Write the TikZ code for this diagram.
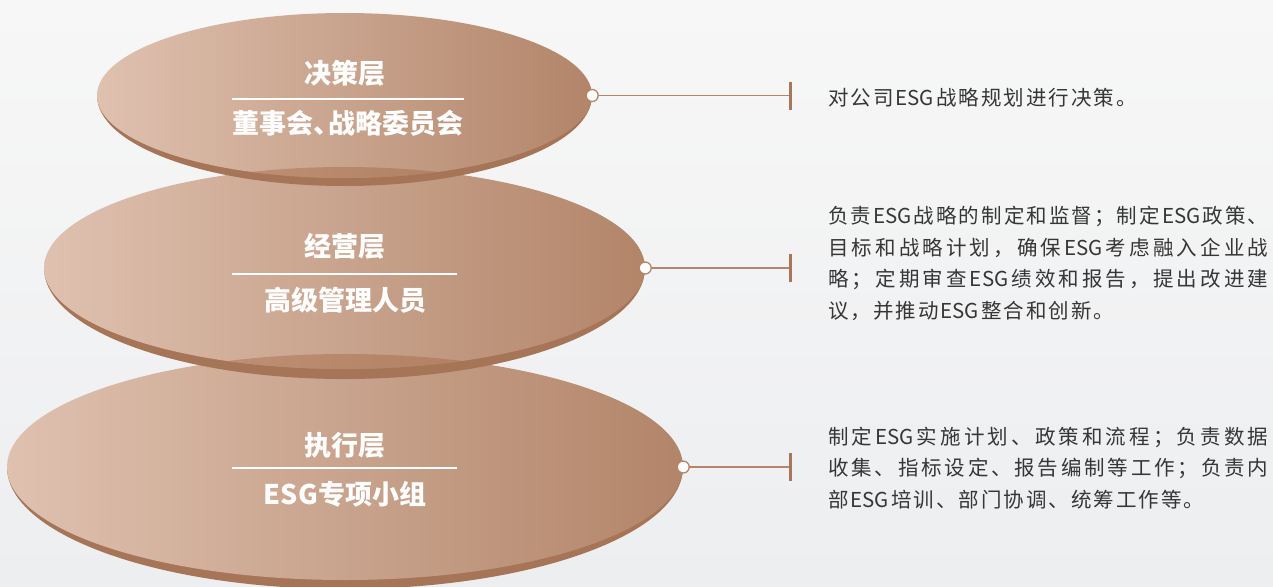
\documentclass[tikz,border=0pt]{standalone}
\usepackage{fontspec}
\usetikzlibrary{shapes.geometric}
\newfontfamily\cjk{Noto Sans CJK SC}
\definecolor{bgT}{HTML}{F7F7F7}
\definecolor{bgB}{HTML}{EDEEF0}
\definecolor{eL}{HTML}{DFC1B0}
\definecolor{eR}{HTML}{B28569}
\definecolor{rimc}{HTML}{A67557}
\definecolor{lensc}{HTML}{A0603C}
\definecolor{lnc}{HTML}{B5856A}
\definecolor{tkc}{HTML}{A8775A}
\definecolor{txt}{HTML}{363636}
\newcommand\esgw{ESG}
\ExplSyntaxOn
\NewDocumentCommand\jline{m}
  {
    \makebox[440pt][s]{ \tl_map_inline:nn {#1} { ##1 \hskip 0pt plus 1fil } \unskip }
  }
\NewDocumentCommand\sline{m}
  {
    \hbox{ \tl_map_inline:nn {#1} { ##1 \kern 2pt } \unkern }
  }
\ExplSyntaxOff
\begin{document}
\begin{tikzpicture}[x=1pt,y=-1pt,
  face/.style={ellipse, inner sep=0pt, left color=eL, right color=eR, draw=none},
  rim/.style={fill=rimc},
  lens/.style={fill=lensc, fill opacity=0.4},
  ttl/.style={font=\cjk\bfseries\fontsize{27}{30}\selectfont, text=white, inner sep=0pt},
  divl/.style={draw=white, line width=1.2pt},
  desc/.style={font=\cjk\fontsize{20.5}{32}\selectfont, text=txt, anchor=west, inner sep=0pt},
  conn/.style={draw=lnc, line width=1.6pt},
  dotc/.style={circle, draw=lnc, fill=white, line width=1.3pt, minimum size=12pt, inner sep=0pt},
  tickc/.style={draw=tkc, line width=3pt}
]
\useasboundingbox (0,0) rectangle (1273,586);
\fill[top color=bgT, bottom color=bgB] (0,0) rectangle (1273,586);

% layer 3
\fill[rim] (683,467) arc[start angle=0, end angle=180, x radius=338, y radius=122] -- cycle;
\node[face, minimum width=676pt, minimum height=226pt] (e3) at (345,467) {};
% layer 2
\fill[rim] (645,268) arc[start angle=0, end angle=180, x radius=300.5, y radius=111] -- cycle;
\node[face, minimum width=601pt, minimum height=202pt] (e2) at (344.5,268) {};
\begin{scope}
  \clip (345,467) ellipse [x radius=338, y radius=113];
  \fill[lens] (344.5,268) ellipse [x radius=300.5, y radius=101];
\end{scope}
% layer 1
\fill[rim] (592,95.5) arc[start angle=0, end angle=180, x radius=247.5, y radius=90.5] -- cycle;
\node[face, minimum width=495pt, minimum height=165pt] (e1) at (344.5,95.5) {};
\begin{scope}
  \clip (344.5,268) ellipse [x radius=300.5, y radius=101];
  \fill[lens] (344.5,95.5) ellipse [x radius=247.5, y radius=82.5];
\end{scope}

% titles
\node[ttl] (h1) at (345,73) {决策层};
\draw[divl] (232,99) coordinate (a1) -- (464,99) coordinate (b1);
\node[ttl] (s1) at (348,123) {董事会\makebox[15pt][l]{、}战略委员会};

\node[ttl] (h2) at (345,246) {经营层};
\draw[divl] (232,274) coordinate (a2) -- (457,274) coordinate (b2);
\node[ttl] (s2) at (345,300) {高级管理人员};

\node[ttl] (h3) at (345,445) {执行层};
\draw[divl] (232,468) coordinate (a3) -- (457,468) coordinate (b3);
\node[ttl] (s3) at (345,494) {ESG专项小组};

% connectors
\coordinate (k1) at (790,95.5);
\coordinate (k2) at (790,268);
\coordinate (k3) at (790,467);
\draw[conn] (e1.east) -- (k1);
\draw[conn] (e2.east) -- (k2);
\draw[conn] (e3.east) -- (k3);
\node[dotc] (d1) at (e1.east) {};
\node[dotc] (d2) at (e2.east) {};
\node[dotc] (d3) at (e3.east) {};
\draw[tickc] ([yshift=14pt]k1) -- ([yshift=-14pt]k1);
\draw[tickc] ([yshift=14pt]k2) -- ([yshift=-14pt]k2);
\draw[tickc] ([yshift=14pt]k3) -- ([yshift=-14pt]k3);

% descriptions
\node[desc] (t11) at (828,98) {\sline{对公司\esgw 战略规划进行决策。}};

\node[desc] (t21) at (828,216) {\jline{负责\esgw 战略的制定和监督；制定\esgw 政策、}};
\node[desc] (t22) at (828,248) {\jline{目标和战略计划，确保\esgw 考虑融入企业战}};
\node[desc] (t23) at (828,279) {\jline{略；定期审查\esgw 绩效和报告，提出改进建}};
\node[desc] (t24) at (828,311) {\sline{议，并推动\esgw 整合和创新。}};

\node[desc] (t31) at (828,437) {\jline{制定\esgw 实施计划、政策和流程；负责数据}};
\node[desc] (t32) at (828,468) {\jline{收集、指标设定、报告编制等工作；负责内}};
\node[desc] (t33) at (828,500) {\sline{部\esgw 培训、部门协调、统筹工作等。}};
\end{tikzpicture}
\end{document}
